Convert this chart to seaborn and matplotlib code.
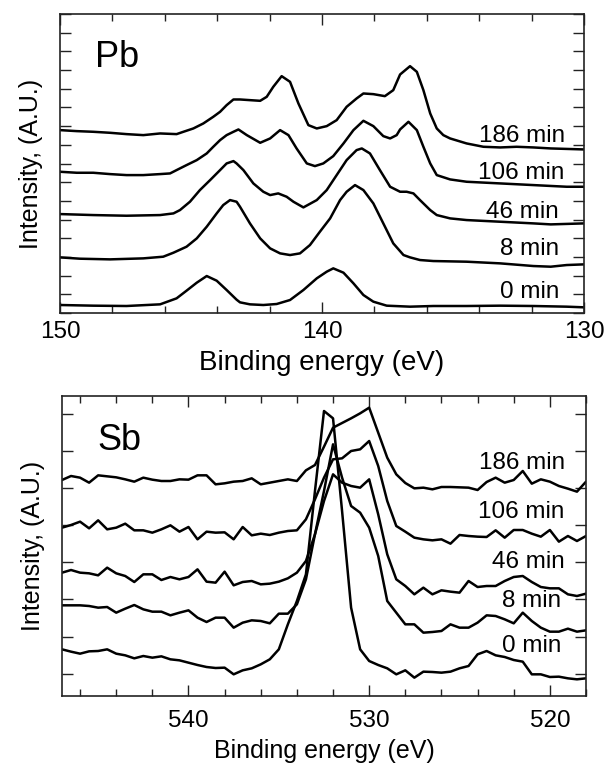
import matplotlib
matplotlib.use("Agg")
import matplotlib.pyplot as plt
import seaborn as sns
import pandas as pd
import numpy as np
from matplotlib.ticker import MultipleLocator

# ---------------- Pb 4f spectra (top panel) ----------------
times = ["0 min", "8 min", "46 min", "106 min", "186 min"]

pb_0_E = [150.0, 148.73, 147.46, 146.18, 145.55, 145.17, 144.78, 144.40, 144.02, 143.64, 143.26, 143.13,
          142.75, 142.24, 141.73, 141.22, 140.71, 140.20, 139.82, 139.57, 139.18, 138.80, 138.42, 138.04,
          137.53, 136.64, 135.75, 134.48, 133.20, 131.93, 130.66, 130.0]
pb_0_I = [24, 22, 21, 26, 44, 67, 91, 111, 97, 69, 40, 32, 26, 24, 27, 39, 69, 104, 124, 134, 121, 89, 54, 34,
          22, 19, 21, 21, 22, 21, 19, 17]

pb_8_E = [150.0, 149.24, 148.09, 146.82, 146.06, 145.67, 145.17, 144.78, 144.40, 144.02, 143.77, 143.51,
          143.26, 143.13, 142.75, 142.36, 141.98, 141.60, 141.22, 140.84, 140.46, 140.08, 139.69, 139.31,
          139.06, 138.74, 138.42, 138.04, 137.66, 137.28, 136.89, 136.64, 136.26, 135.75, 134.48, 133.20,
          131.93, 131.27, 130.66, 130.0]
pb_8_I = [167, 163, 161, 164, 169, 181, 199, 224, 259, 299, 324, 339, 334, 319, 269, 224, 194, 179, 174, 179,
          204, 244, 284, 339, 364, 384, 369, 329, 269, 209, 174, 167, 159, 156, 154, 149, 141, 139, 144, 146]

pb_46_E = [150.0, 148.73, 147.46, 146.18, 145.67, 145.42, 145.04, 144.66, 144.27, 143.89, 143.64, 143.38,
           143.26, 143.0, 142.62, 142.24, 141.98, 141.67, 141.35, 141.09, 140.71, 140.20, 139.82, 139.44,
           139.06, 138.68, 138.48, 138.17, 137.79, 137.40, 137.02, 136.77, 136.51, 136.26, 135.87, 135.62,
           135.11, 134.48, 133.20, 131.93, 131.27, 130.0]
pb_46_I = [297, 294, 292, 294, 299, 309, 334, 369, 399, 429, 449, 456, 449, 429, 389, 364, 354, 359, 349, 334,
           317, 339, 369, 414, 459, 489, 494, 479, 429, 379, 364, 364, 359, 339, 309, 294, 284, 279, 274, 269,
           266, 269]

pb_106_E = [150.0, 149.36, 148.73, 148.09, 147.46, 146.82, 146.18, 145.80, 145.55, 145.17, 144.78, 144.40,
            144.15, 143.89, 143.64, 143.38, 143.19, 142.87, 142.36, 141.98, 141.60, 141.28, 140.97, 140.58,
            140.27, 139.95, 139.57, 139.18, 138.80, 138.42, 138.04, 137.66, 137.40, 137.15, 137.02, 136.70,
            136.38, 136.13, 135.87, 135.62, 135.11, 134.48, 133.20, 131.93, 130.66, 130.0]
pb_106_I = [424, 421, 421, 417, 414, 414, 417, 419, 429, 444, 459, 479, 499, 519, 534, 544, 551, 534, 511, 524,
            549, 534, 494, 449, 441, 449, 471, 509, 549, 577, 561, 531, 524, 534, 551, 574, 549, 499, 449, 414,
            401, 394, 389, 384, 379, 379]

pb_186_E = [150.0, 149.36, 148.73, 148.09, 147.46, 146.82, 146.18, 145.55, 145.29, 144.91, 144.53, 144.15,
            143.89, 143.64, 143.38, 143.13, 142.75, 142.36, 142.11, 141.86, 141.54, 141.22, 140.90, 140.52,
            140.20, 139.82, 139.44, 139.06, 138.68, 138.42, 138.04, 137.60, 137.28, 137.02, 136.64, 136.38,
            136.13, 135.87, 135.62, 135.37, 135.11, 134.48, 133.84, 133.20, 132.57, 131.93, 131.27, 130.0]
pb_186_I = [549, 546, 544, 541, 537, 534, 539, 537, 544, 554, 569, 589, 604, 624, 641, 641, 639, 637, 649, 679,
            711, 694, 629, 564, 554, 561, 579, 619, 644, 659, 657, 651, 669, 716, 741, 724, 669, 599, 554, 534,
            524, 509, 499, 497, 499, 497, 494, 491]

# ---------------- Sb 3d spectra (bottom panel) ----------------
sb_E = [547.0, 546.5, 546.0, 545.5, 545.0, 544.5, 544.0, 543.5, 543.0, 542.5,
        542.0, 541.5, 541.0, 540.5, 540.0, 539.5, 539.0, 538.5, 538.0, 537.5,
        537.0, 536.5, 536.0, 535.5, 535.0, 534.5, 534.0, 533.5, 533.0, 532.5,
        532.0, 531.5, 531.0, 530.5, 530.0, 529.5, 529.0, 528.5, 528.0, 527.5,
        527.0, 526.5, 526.0, 525.5, 525.0, 524.5, 524.0, 523.5, 523.0, 522.5,
        522.0, 521.5, 521.0, 520.5, 520.0, 519.5, 519.0, 518.5, 518.0]
sb_0_I = [73, 66, 60, 67, 68, 73, 60, 55, 46, 53, 48, 52, 43, 40, 33, 26, 20, 17, 18, -2,
          10, 16, 28, 43, 73, 148, 218, 298, 548, 788, 766, 488, 198, 73, 38, 26, 16, -2, 10, -12,
          6, 5, 3, 6, 16, 23, 58, 68, 55, 50, 41, 36, -2, -2, -10, -9, -14, -17, -14]
sb_8_I = [205, 205, 205, 203, 198, 200, 183, 195, 206, 193, 186, 186, 175, 183, 190, 168, 155, 168, 168, 138,
          153, 160, 158, 151, 180, 180, 208, 283, 418, 548, 688, 588, 503, 483, 438, 353, 218, 183, 148, 148,
          123, 125, 128, 148, 138, 138, 153, 175, 173, 163, 151, 183, 158, 138, 126, 126, 135, 126, 130]
sb_46_I = [303, 311, 303, 301, 295, 318, 301, 293, 275, 298, 298, 281, 290, 283, 290, 313, 276, 273, 306, 265,
           275, 278, 268, 270, 276, 286, 303, 338, 418, 518, 598, 573, 563, 558, 583, 478, 358, 283, 263, 238,
           258, 238, 250, 246, 243, 278, 260, 263, 263, 278, 290, 293, 275, 260, 256, 256, 238, 233, 240]
sb_106_I = [438, 446, 456, 436, 460, 433, 438, 450, 430, 430, 423, 433, 445, 426, 440, 403, 426, 423, 424, 403,
            440, 415, 420, 416, 423, 428, 430, 463, 523, 588, 643, 646, 668, 673, 698, 623, 518, 443, 426, 408,
            403, 400, 403, 390, 416, 413, 411, 410, 430, 408, 431, 431, 420, 411, 431, 396, 413, 398, 413]
sb_186_I = [581, 593, 588, 573, 595, 592, 589, 583, 576, 588, 582, 578, 578, 583, 582, 595, 595, 568, 571, 576,
            578, 586, 568, 573, 578, 583, 578, 610, 626, 681, 738, 752, 766, 781, 798, 723, 648, 598, 572, 556,
            558, 553, 560, 560, 559, 558, 551, 575, 588, 573, 581, 608, 570, 583, 576, 563, 555, 546, 576]

# label anchor values (baseline of each curve label)
pb_label_E = [130.95, 130.95, 130.95, 130.73, 130.73]
pb_label_I = [44, 174, 284, 401, 514]
sb_label_E = [519.39, 519.39, 519.17, 519.17, 519.17]
sb_label_I = [66, 201, 316, 466, 613]

# ---------------- build tables ----------------
pb_E = [pb_0_E, pb_8_E, pb_46_E, pb_106_E, pb_186_E]
pb_I = [pb_0_I, pb_8_I, pb_46_I, pb_106_I, pb_186_I]
pb_df = pd.concat([pd.DataFrame({"energy": e, "intensity": i, "time": t})
                   for e, i, t in zip(pb_E, pb_I, times)], ignore_index=True)
sb_I = [sb_0_I, sb_8_I, sb_46_I, sb_106_I, sb_186_I]
sb_df = pd.concat([pd.DataFrame({"energy": sb_E, "intensity": i, "time": t})
                   for i, t in zip(sb_I, times)], ignore_index=True)

sns.set_style("ticks")
plt.rcParams["font.family"] = ["Liberation Sans", "DejaVu Sans"]
for key in ("text.color", "axes.labelcolor", "xtick.color", "ytick.color"):
    plt.rcParams[key] = "black"

fig = plt.figure(figsize=(6.07, 7.66), dpi=100)
W, H = 607.0, 766.0
ax1 = fig.add_axes([60 / W, 1 - 313 / H, 524 / W, 299 / H])
ax2 = fig.add_axes([62 / W, 1 - 696 / H, 524 / W, 300 / H])

sns.lineplot(data=pb_df, x="energy", y="intensity", units="time", estimator=None,
             color="black", lw=1.8, ax=ax1, legend=False)
sns.lineplot(data=sb_df, x="energy", y="intensity", units="time", estimator=None,
             color="black", lw=1.8, ax=ax2, legend=False)

# Top axes styling
ax1.set_xlim(150, 130)
ax1.set_ylim(0, 16 * 56.1)
ax1.yaxis.set_major_locator(MultipleLocator(56.1))
ax1.xaxis.set_major_locator(MultipleLocator(10))
ax1.xaxis.set_minor_locator(MultipleLocator(2))

ax2.set_xlim(547, 518)
ax2.set_ylim(-67, 833)
ax2.yaxis.set_major_locator(MultipleLocator(111.4))
ax2.xaxis.set_major_locator(MultipleLocator(10))
ax2.xaxis.set_minor_locator(MultipleLocator(2))

for ax, pad in ((ax1, 6), (ax2, 10)):
    ax.tick_params(axis="both", which="major", direction="in", top=True, right=True,
                   length=8, width=1.0, labelsize=17.5, pad=pad, color="#222222",
                   labelcolor="black")
    ax.tick_params(axis="x", which="minor", direction="in", top=True, bottom=True,
                   length=5, width=1.0, color="#222222")
    ax.tick_params(axis="y", which="both", labelleft=False)
    for s in ax.spines.values():
        s.set_linewidth(1.2)
        s.set_color("#222222")
    ax.set_ylabel("Intensity, (A.U.)", fontsize=18, labelpad=12, color="black")

ax1.set_xlabel("Binding energy (eV)", fontsize=20, labelpad=5, color="black")
ax2.set_xlabel("Binding energy (eV)", fontsize=18, labelpad=5, color="black")

ax1.text(0.067, 0.823, "Pb", transform=ax1.transAxes, fontsize=26, va="baseline", ha="left",
         color="black")
ax2.text(0.067, 0.82, "Sb", transform=ax2.transAxes, fontsize=26, va="baseline", ha="left",
         color="black")

for e, v, t in zip(pb_label_E, pb_label_I, times):
    ax1.text(e, v, t, ha="right", va="baseline", fontsize=17.5, color="black")
for e, v, t in zip(sb_label_E, sb_label_I, times):
    ax2.text(e, v, t, ha="right", va="baseline", fontsize=17.5, color="black")

fig.savefig("out.png", dpi=100)
